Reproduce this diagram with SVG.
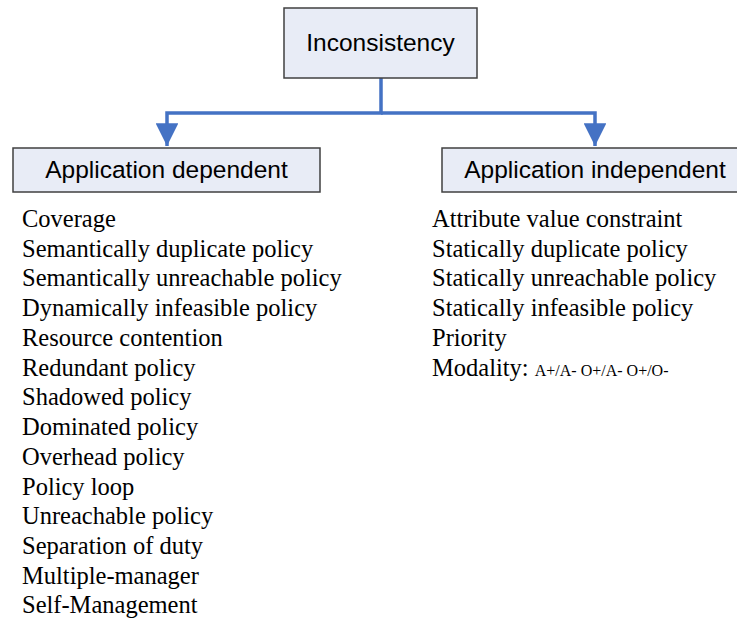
<svg xmlns="http://www.w3.org/2000/svg" width="737" height="621" viewBox="0 0 737 621">
<style>
.box{fill:#E8ECF6;stroke:#404040;stroke-width:1.5}
.lbl{font-family:"Liberation Sans",Arial,sans-serif;font-size:24.5px;fill:#000}
.item{font-family:"Liberation Serif","Times New Roman",serif;font-size:24.5px;fill:#000}
.small{font-size:16px}
.conn{fill:none;stroke:#4472C4;stroke-width:3.5}
</style>
<defs>
<marker id="arr" viewBox="0 0 10 10" refX="10" refY="5" markerWidth="6.5" markerHeight="6.5" markerUnits="strokeWidth" orient="auto">
<path d="M0,0 L10,5 L0,10 Z" fill="#4472C4"/>
</marker>
</defs>
<rect width="737" height="621" fill="#fff"/>
<g id="connectors">
<path class="conn" d="M381,78 V113 H167 V146" marker-end="url(#arr)"/>
<path class="conn" d="M381,113 H595 V146" marker-end="url(#arr)"/>
</g>
<g id="inconsistency">
<rect class="box" x="284" y="8" width="193" height="70"/>
<text class="lbl" x="380.5" y="51" text-anchor="middle">Inconsistency</text>
</g>
<g id="app-dependent">
<rect class="box" x="13" y="148" width="307" height="44"/>
<text class="lbl" x="166.5" y="178" text-anchor="middle">Application dependent</text>
</g>
<g id="app-independent">
<rect class="box" x="442" y="148" width="300" height="44"/>
<text class="lbl" x="595" y="178" text-anchor="middle">Application independent</text>
</g>
<g id="dependent-list" class="item">
<text x="22" y="227">Coverage</text>
<text x="22" y="257">Semantically duplicate policy</text>
<text x="22" y="286">Semantically unreachable policy</text>
<text x="22" y="316">Dynamically infeasible policy</text>
<text x="22" y="346">Resource contention</text>
<text x="22" y="376">Redundant policy</text>
<text x="22" y="405">Shadowed policy</text>
<text x="22" y="435">Dominated policy</text>
<text x="22" y="465">Overhead policy</text>
<text x="22" y="495">Policy loop</text>
<text x="22" y="524">Unreachable policy</text>
<text x="22" y="554">Separation of duty</text>
<text x="22" y="584">Multiple-manager</text>
<text x="22" y="613">Self-Management</text>
</g>
<g id="independent-list" class="item">
<text x="432" y="227">Attribute value constraint</text>
<text x="432" y="257">Statically duplicate policy</text>
<text x="432" y="286">Statically unreachable policy</text>
<text x="432" y="316">Statically infeasible policy</text>
<text x="432" y="346">Priority</text>
<text x="432" y="376">Modality: <tspan class="small">A+/A- O+/A- O+/O-</tspan></text>
</g>
</svg>
